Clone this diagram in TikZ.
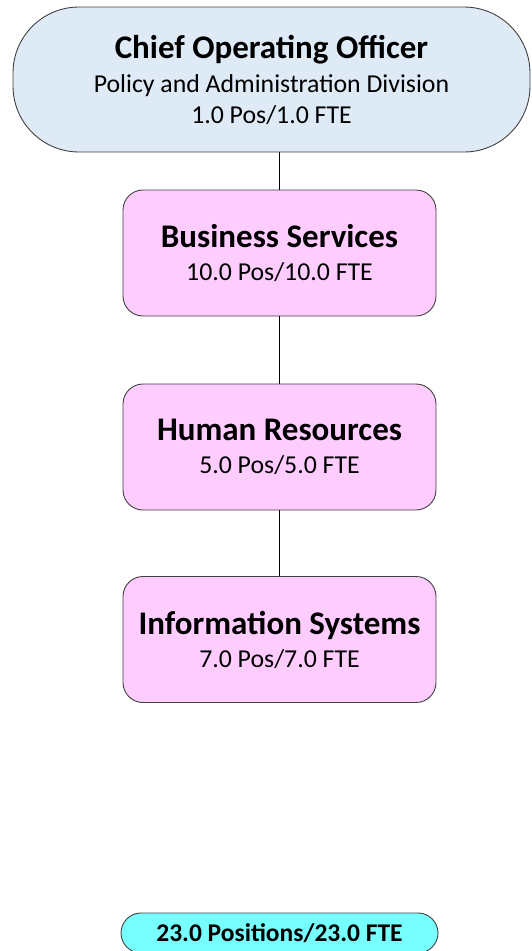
\documentclass[tikz,border=0pt]{standalone}
\usepackage{fontspec}
\setmainfont{Carlito}
\definecolor{cooblue}{RGB}{222,234,246}
\definecolor{unitpink}{RGB}{255,204,255}
\definecolor{totalcyan}{RGB}{119,255,255}
\definecolor{edgegray}{RGB}{64,64,64}
\newcommand{\titlefont}{\fontsize{33}{38}\selectfont\bfseries}
\newcommand{\subfont}{\fontsize{25.8}{31}\selectfont}
\begin{document}
\begin{tikzpicture}[x=1pt,y=-1pt,
	unitbox/.style={draw=edgegray, line width=0.9pt, fill=unitpink, rounded corners=20pt,
		minimum width=313pt, minimum height=126pt, align=center, inner sep=0pt, font=\subfont},
	link/.style={line width=1.5pt, black}]
	\useasboundingbox (0,0) rectangle (532,951);
			\node	(coo) at (271.5,79.5) [draw=edgegray, line width=0.9pt, fill=cooblue, rounded corners=66pt,
				minimum width=517pt, minimum height=145pt, align=center, inner sep=0pt, font=\subfont]
				{{\titlefont Chief Operating Officer}\\[3pt]Policy and Administration Division\\1.0 Pos/1.0 FTE};
			\node	(bs) at (279.5,253) [unitbox] {{\titlefont Business Services}\\[2pt]10.0 Pos/10.0 FTE};
			\node	(hr) at (279.5,447) [unitbox] {{\titlefont Human Resources}\\[2pt]5.0 Pos/5.0 FTE};
			\node	(is) at (279.5,639.5) [unitbox] {{\titlefont Information Systems}\\[2pt]7.0 Pos/7.0 FTE};
			\node	(total) at (279.5,933) [draw=edgegray, line width=0.9pt, fill=totalcyan, rounded corners=20pt,
				minimum width=317pt, minimum height=40pt, inner sep=0pt]
				{\fontsize{25.5}{30}\selectfont\bfseries 23.0 Positions/23.0 FTE};
			
			\draw[link]
			(coo.south -| bs.north) -- (bs.north)
			(bs) edge (hr)
			(hr) edge (is)
			;
\end{tikzpicture}
\end{document}
